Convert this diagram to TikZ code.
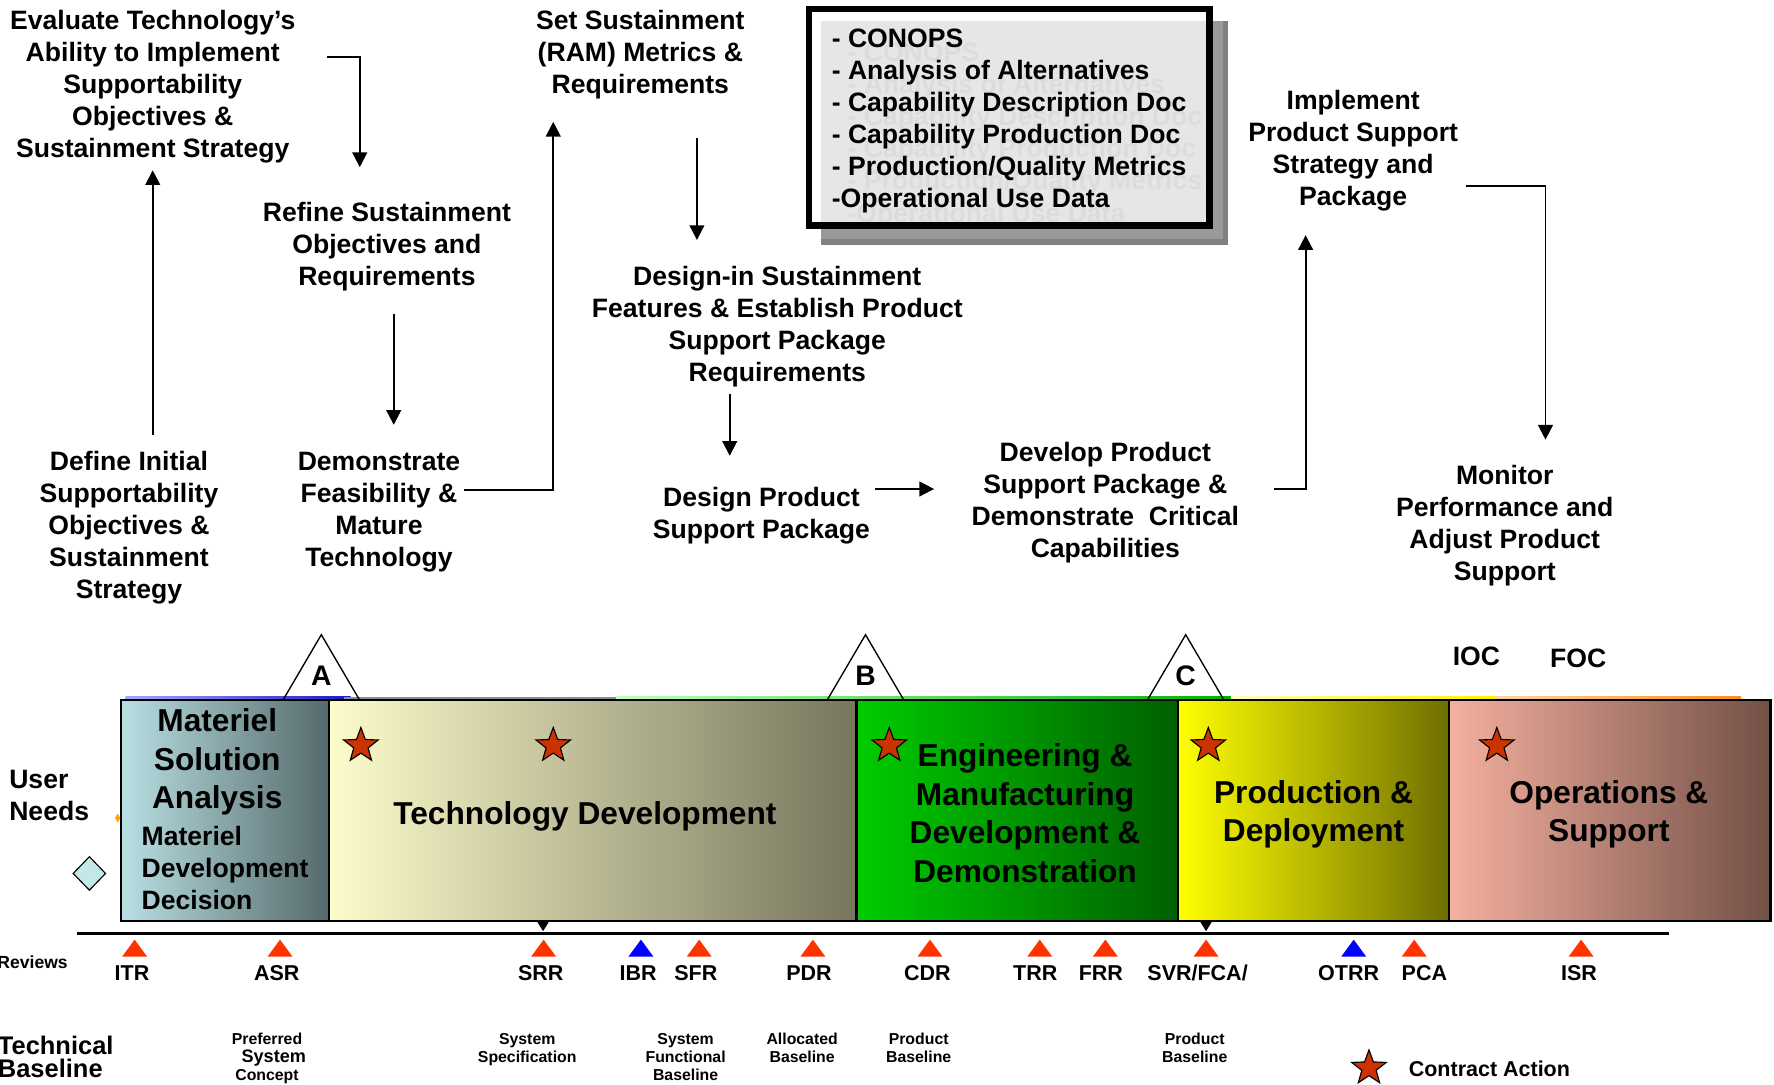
\documentclass[tikz,border=0pt]{standalone}
\usepackage{fontspec}
\setmainfont{Liberation Sans}
\usetikzlibrary{arrows.meta,shapes.geometric}
\definecolor{msaL}{HTML}{B9E0E3}
\definecolor{msaR}{HTML}{55696B}
\definecolor{tdL}{HTML}{FDFCCB}
\definecolor{tdM}{HTML}{D6D3A8}
\definecolor{tdR}{HTML}{77765E}
\definecolor{emdL}{HTML}{00CC00}
\definecolor{emdR}{HTML}{005F00}
\definecolor{pdL}{HTML}{FFFF00}
\definecolor{pdM}{HTML}{CDCD00}
\definecolor{pdR}{HTML}{6F6F00}
\definecolor{osL}{HTML}{F5B0A0}
\definecolor{osM}{HTML}{C98C7E}
\definecolor{osR}{HTML}{725046}
\definecolor{starred}{HTML}{CC3300}
\definecolor{revred}{HTML}{FF3300}
\definecolor{revblue}{HTML}{0000FF}
\definecolor{docfill}{HTML}{E6E6E6}
\definecolor{docghost}{HTML}{DCDCDC}
\definecolor{needs}{HTML}{C4E8E8}
\begin{document}
\begin{tikzpicture}[x=1pt,y=-1pt,>={Triangle[length=13pt,width=13pt]}]
	\tikzset{txt/.style={font=\bfseries\fontsize{23.5}{28.3}\selectfont, align=center, inner sep=0pt},
		phase/.style={font=\bfseries\fontsize{28}{34}\selectfont, align=center, inner sep=0pt},
		rev/.style={font=\bfseries\fontsize{19}{19}\selectfont, anchor=base, inner sep=0pt},
		bl/.style={font=\bfseries\fontsize{14}{16}\selectfont, align=center, inner sep=0pt},
		arr/.style={->, line width=1.7pt},
		cstar/.style={star, star points=5, star point ratio=2.4, minimum size=32pt, inner sep=0pt, fill=starred, draw=black, line width=1pt},
		gate/.style={draw=black, line width=1.2pt}}
	\def\revtri{+(-11,7.5) -- +(0,-7.5) -- +(11,7.5) -- cycle}
	\useasboundingbox (0,0) rectangle (1568,959);
	
	% document box with shadow
	\fill[black!50] (726,19) rectangle (1085.6,216.5);
	\fill[black!40] (726,19) rectangle (1080.6,211.5);
	\fill[docfill] (726,19) rectangle (1072,202.6);
	\node[txt, align=left, anchor=west, text=docghost] (ghost) at (749,119.7) {- CONOPS\\- Analysis of Alternatives\\- Capability Description Doc\\- Capability Production Doc\\- Production/Quality Metrics\\-Operational Use Data};
	\node[txt, align=left, anchor=west] (docs) at (735,106.7) {- CONOPS\\- Analysis of Alternatives\\- Capability Description Doc\\- Capability Production Doc\\- Production/Quality Metrics\\-Operational Use Data};
	\draw[line width=6pt] (715,8) rectangle (1069,199.6);
	
	% steps
	\node[txt] (evaluate) at (135,76.7) {Evaluate Technology’s\\Ability to Implement\\Supportability\\Objectives \&\\Sustainment Strategy};
	\node[txt] (setram) at (566,48.2) {Set Sustainment\\(RAM) Metrics \&\\Requirements};
	\node[txt] (refine) at (342,218.2) {Refine Sustainment\\Objectives and\\Requirements};
	\node[txt] (designin) at (687,288.7) {Design-in Sustainment\\Features \& Establish Product\\Support Package\\Requirements};
	\node[txt] (implement) at (1196,133.2) {Implement\\Product Support\\Strategy and\\Package};
	\node[txt] (define) at (114,466.7) {Define Initial\\Supportability\\Objectives \&\\Sustainment\\Strategy};
	\node[txt] (demo) at (335,452.7) {Demonstrate\\Feasibility \&\\Mature\\Technology};
	\node[txt] (designprod) at (673,456.2) {Design Product\\Support Package};
	\node[txt] (develop) at (977,444.2) {Develop Product\\Support Package \&\\Demonstrate\ \ Critical\\Capabilities};
	\node[txt] (monitor) at (1330,464.2) {Monitor\\Performance and\\Adjust Product\\Support};
	
	\draw[arr, shorten <=14pt, shorten >=6pt] (evaluate.south |- define.north) -- (evaluate.south);
	\draw[arr, shorten >=31pt] ([xshift=28pt,yshift=26pt]evaluate.east) -| ([xshift=-24pt]refine.north);
	\draw[arr, shorten <=20pt, shorten >=24pt] ([xshift=6pt]refine.south) -- ([xshift=6pt]refine.south |- demo.north);
	\draw[arr, shorten <=3pt, shorten >=20pt] ([yshift=20pt]demo.east) -| ([xshift=-77pt]setram.south);
	\draw[arr, shorten <=34pt, shorten >=23pt] ([xshift=50pt]setram.south) -- ([xshift=50pt]setram.south |- designin.north);
	\draw[arr, shorten <=6pt, shorten >=28pt] ([xshift=-28pt]designprod.north |- designin.south) -- ([xshift=-28pt]designprod.north);
	\draw[arr, shorten <=4pt, shorten >=33pt] ([yshift=24pt]designprod.east) -- ([yshift=24pt]designprod.east -| develop.west);
	\draw[arr, shorten <=31pt, shorten >=21pt] ([yshift=12pt]develop.east) -| ([xshift=-42pt]implement.south);
	\draw[arr, shorten <=7pt, shorten >=22pt] ([yshift=-31pt]implement.east) -| ([xshift=36pt]monitor.north);
	
	% phase band
	\node[diamond, fill=orange!70!yellow, minimum width=5pt, minimum height=8pt, inner sep=0pt] (needsmark) at (104,723) {};
	\shade[left color=blue!35, right color=blue!75!black!90] (111,615.5) rectangle (310,618);
	\fill[black!45] (304,615.8) rectangle (545,617.6);
	\shade[left color=green!25, right color=green!70!black] (545,615.5) rectangle (1088,618);
	\shade[left color=yellow!25, right color=yellow!90!orange] (1088,615.5) rectangle (1322,618);
	\shade[left color=orange!35, right color=orange!90] (1322,615.5) rectangle (1539,618);
	\shade[left color=msaL, right color=msaR] (107,619) rectangle (291,814);
	\shade[left color=tdL, middle color=tdM, right color=tdR] (291,619) rectangle (757,814);
	\shade[left color=emdL, right color=emdR] (757,619) rectangle (1041,814);
	\shade[left color=pdL, middle color=pdM, right color=pdR] (1041,619) rectangle (1281,814);
	\shade[left color=osL, middle color=osM, right color=osR] (1281,619) rectangle (1565,814);
	\draw[line width=2pt] (107,619) rectangle (1565,814);
	\draw[line width=2pt] (291,619) -- (291,814) (757,619) -- (757,814)
	(1041,619) -- (1041,814) (1281,619) -- (1281,814);
	
	% milestones
	\draw[gate] (250,619) -- (284,561) -- (318,619);
	\draw[gate] (731,619) -- (765,561) -- (799,619);
	\draw[gate] (1014,619) -- (1048,561) -- (1082,619);
	\node[rev, font=\bfseries\fontsize{25}{25}\selectfont] (msA) at (284,606) {A};
	\node[rev, font=\bfseries\fontsize{25}{25}\selectfont] (msB) at (765,606) {B};
	\node[rev, font=\bfseries\fontsize{25}{25}\selectfont] (msC) at (1048,606) {C};
	\node[rev, font=\bfseries\fontsize{23.5}{23.5}\selectfont] (ioc) at (1305,588.4) {IOC};
	\node[rev, font=\bfseries\fontsize{23.5}{23.5}\selectfont] (foc) at (1395,590.4) {FOC};
	
	\node[phase] (msa) at (192,673.7) {Materiel\\Solution\\Analysis};
	\node[txt, align=left, anchor=west] (mdd) at (125,767) {Materiel\\Development\\Decision};
	\node[phase, anchor=base] (td) at (517,728.8) {Technology Development};
	\node[phase] (emd) at (906,718.8) {Engineering \&\\Manufacturing\\Development \&\\Demonstration};
	\node[phase] (pd) at (1161,719.7) {Production \&\\Deployment};
	\node[phase] (os) at (1422,719.7) {Operations \&\\Support};
	\node[cstar] (star1) at (319,659) {};
	\node[cstar] (star2) at (489,659) {};
	\node[cstar] (star3) at (786,659) {};
	\node[cstar] (star4) at (1068,659) {};
	\node[cstar] (star5) at (1323,659) {};
	
	\node[txt, align=left, anchor=west] (user) at (8,703) {User\\Needs};
	\node[diamond, draw=black, line width=1pt, fill=needs, minimum width=29pt, minimum height=30pt, inner sep=0pt] (needs) at (79,772) {};
	
	% reviews
	\draw[line width=3pt] (68,825) -- (1475,825);
	\fill (475,815) -- (485,815) -- (480,823) -- cycle;
	\fill (1061,815) -- (1071,815) -- (1066,823) -- cycle;
	\node[rev, font=\bfseries\fontsize{15.5}{15.5}\selectfont, anchor=base east] (reviews) at (60,856) {Reviews};
	\fill[revred] (119,838) \revtri;
	\fill[revred] (247.5,838) \revtri;
	\fill[revred] (480.5,838) \revtri;
	\fill[revblue] (566.5,838) \revtri;
	\fill[revred] (618,838) \revtri;
	\fill[revred] (718.5,838) \revtri;
	\fill[revred] (822,838) \revtri;
	\fill[revred] (919,838) \revtri;
	\fill[revred] (977,838) \revtri;
	\fill[revred] (1066,838) \revtri;
	\fill[revblue] (1196.5,838) \revtri;
	\fill[revred] (1250,838) \revtri;
	\fill[revred] (1397.5,838) \revtri;
	\node[rev] (itr) at (116.7,866.8) {ITR};
	\node[rev] (asr) at (244.6,866.8) {ASR};
	\node[rev] (srr) at (478,866.8) {SRR};
	\node[rev] (ibr) at (564,866.8) {IBR};
	\node[rev] (sfr) at (615,866.8) {SFR};
	\node[rev] (pdr) at (715,866.8) {PDR};
	\node[rev] (cdr) at (819.6,866.8) {CDR};
	\node[rev] (trr) at (915,866.8) {TRR};
	\node[rev] (frr) at (973,866.8) {FRR};
	\node[rev] (svr) at (1058.5,866.8) {SVR/FCA/};
	\node[rev] (otrr) at (1192,866.8) {OTRR};
	\node[rev] (pca) at (1259,866.8) {PCA};
	\node[rev] (isr) at (1395.6,866.8) {ISR};
	
	% baselines
	\node[txt, align=left, anchor=west, font=\bfseries\fontsize{22.5}{20.5}\selectfont] (techbase) at (-2,934.5) {Technical\\Baseline};
	\node[bl] (prefsys) at (236,935.6) {Preferred\\\hspace*{12pt}{\fontsize{16}{16}\selectfont System}\\Concept};
	\node[bl] (sysspec) at (466,927.8) {System\\Specification};
	\node[bl] (sysfunc) at (606,934.2) {System\\Functional\\Baseline};
	\node[bl] (alloc) at (709,926.4) {Allocated\\Baseline};
	\node[bl] (prodA) at (812,926.4) {Product\\Baseline};
	\node[bl] (prodB) at (1056,926.4) {Product\\Baseline};
	
	\node[cstar] (legstar) at (1210,944) {};
	\node[rev, anchor=base west] (legtext) at (1245,951.8) {Contract Action};
\end{tikzpicture}
\end{document}
